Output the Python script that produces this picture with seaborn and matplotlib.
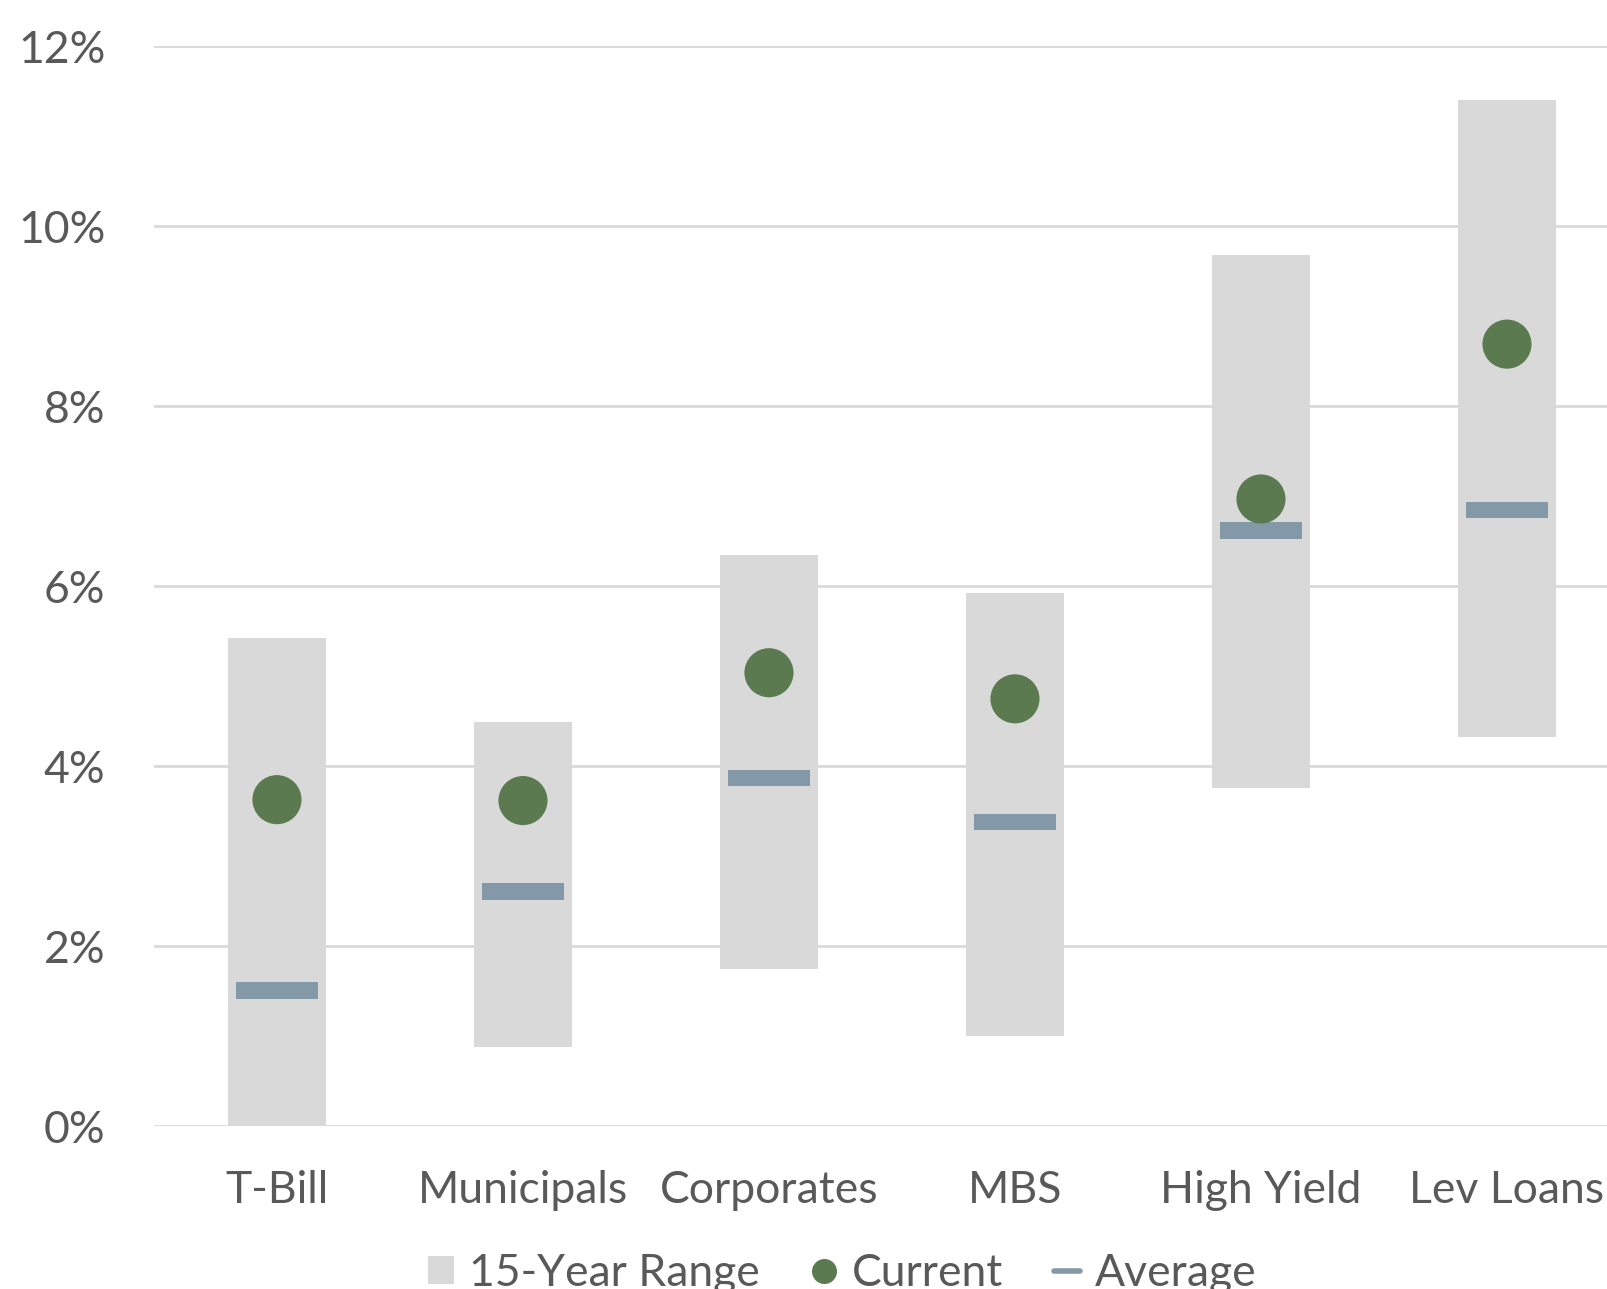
import matplotlib
matplotlib.use("Agg")
import matplotlib.pyplot as plt
from matplotlib.lines import Line2D
from matplotlib.patches import Patch
import seaborn as sns
import pandas as pd

categories = ["T-Bill", "Municipals", "Corporates", "MBS", "High Yield", "Lev Loans"]
range_low = [0.00, 0.88, 1.75, 1.00, 3.76, 4.33]
range_high = [5.43, 4.49, 6.35, 5.93, 9.68, 11.40]
current = [3.63, 3.62, 5.04, 4.75, 6.97, 8.69]
average = [1.51, 2.61, 3.87, 3.38, 6.62, 6.85]
y_ticks = [0, 2, 4, 6, 8, 10, 12]

GREY = "#d9d9d9"
GREEN = "#5b7a4f"
STEEL = "#8399a8"
TEXT = "#595959"

sns.set_theme(style="white")
plt.rcParams["font.family"] = ["Lato", "DejaVu Sans"]

df = pd.DataFrame({
    "cat": categories,
    "low": range_low,
    "span": [h - l for h, l in zip(range_high, range_low)],
    "current": current,
    "avg_base": [a - 0.09 for a in average],
})

fig = plt.figure(figsize=(16.07, 12.89), dpi=100)
ax = fig.add_axes([0.0958, 0.1261, 0.9185, 0.8381])

# horizontal gridlines behind everything
for t in y_ticks:
    ax.axhline(t, color=GREY, lw=2, zorder=0)

# 15-year range bars
sns.barplot(data=df, x="cat", y="span", bottom=df["low"], color=GREY,
            width=0.4, saturation=1, ax=ax, zorder=2, linewidth=0)
# average markers as thin bars
sns.barplot(data=df, x="cat", y=[0.18] * len(categories), bottom=df["avg_base"],
            color=STEEL, width=0.33, saturation=1, ax=ax, zorder=3, linewidth=0)
# current values
sns.scatterplot(data=df, x="cat", y="current", color=GREEN, s=1250,
                edgecolor="none", ax=ax, zorder=4)

ax.set_xlim(-0.5, 5.5)
ax.set_ylim(0, 12)
ax.set_yticks(y_ticks)
ax.set_yticklabels([f"{t}%" for t in y_ticks])
ax.set_xlabel("")
ax.set_ylabel("")
ax.tick_params(axis="y", length=0, pad=35, labelsize=32, labelcolor=TEXT)
ax.tick_params(axis="x", length=0, pad=31, labelsize=32, labelcolor=TEXT)
for s in ax.spines.values():
    s.set_visible(False)
ax.grid(False)

handles = [
    Patch(facecolor=GREY, edgecolor="none", label="15-Year Range"),
    Line2D([], [], marker="o", color="none", markerfacecolor=GREEN,
           markeredgecolor="none", markersize=18, label="Current"),
    Line2D([], [], color=STEEL, lw=4, label="Average"),
]
fig.legend(handles=handles, loc="center", bbox_to_anchor=(0.524, 0.012),
           ncol=3, frameon=False, fontsize=32, labelcolor=TEXT,
           handlelength=0.6, handleheight=0.6, handletextpad=0.32,
           columnspacing=1.15)

fig.savefig("out.png", dpi=100)
